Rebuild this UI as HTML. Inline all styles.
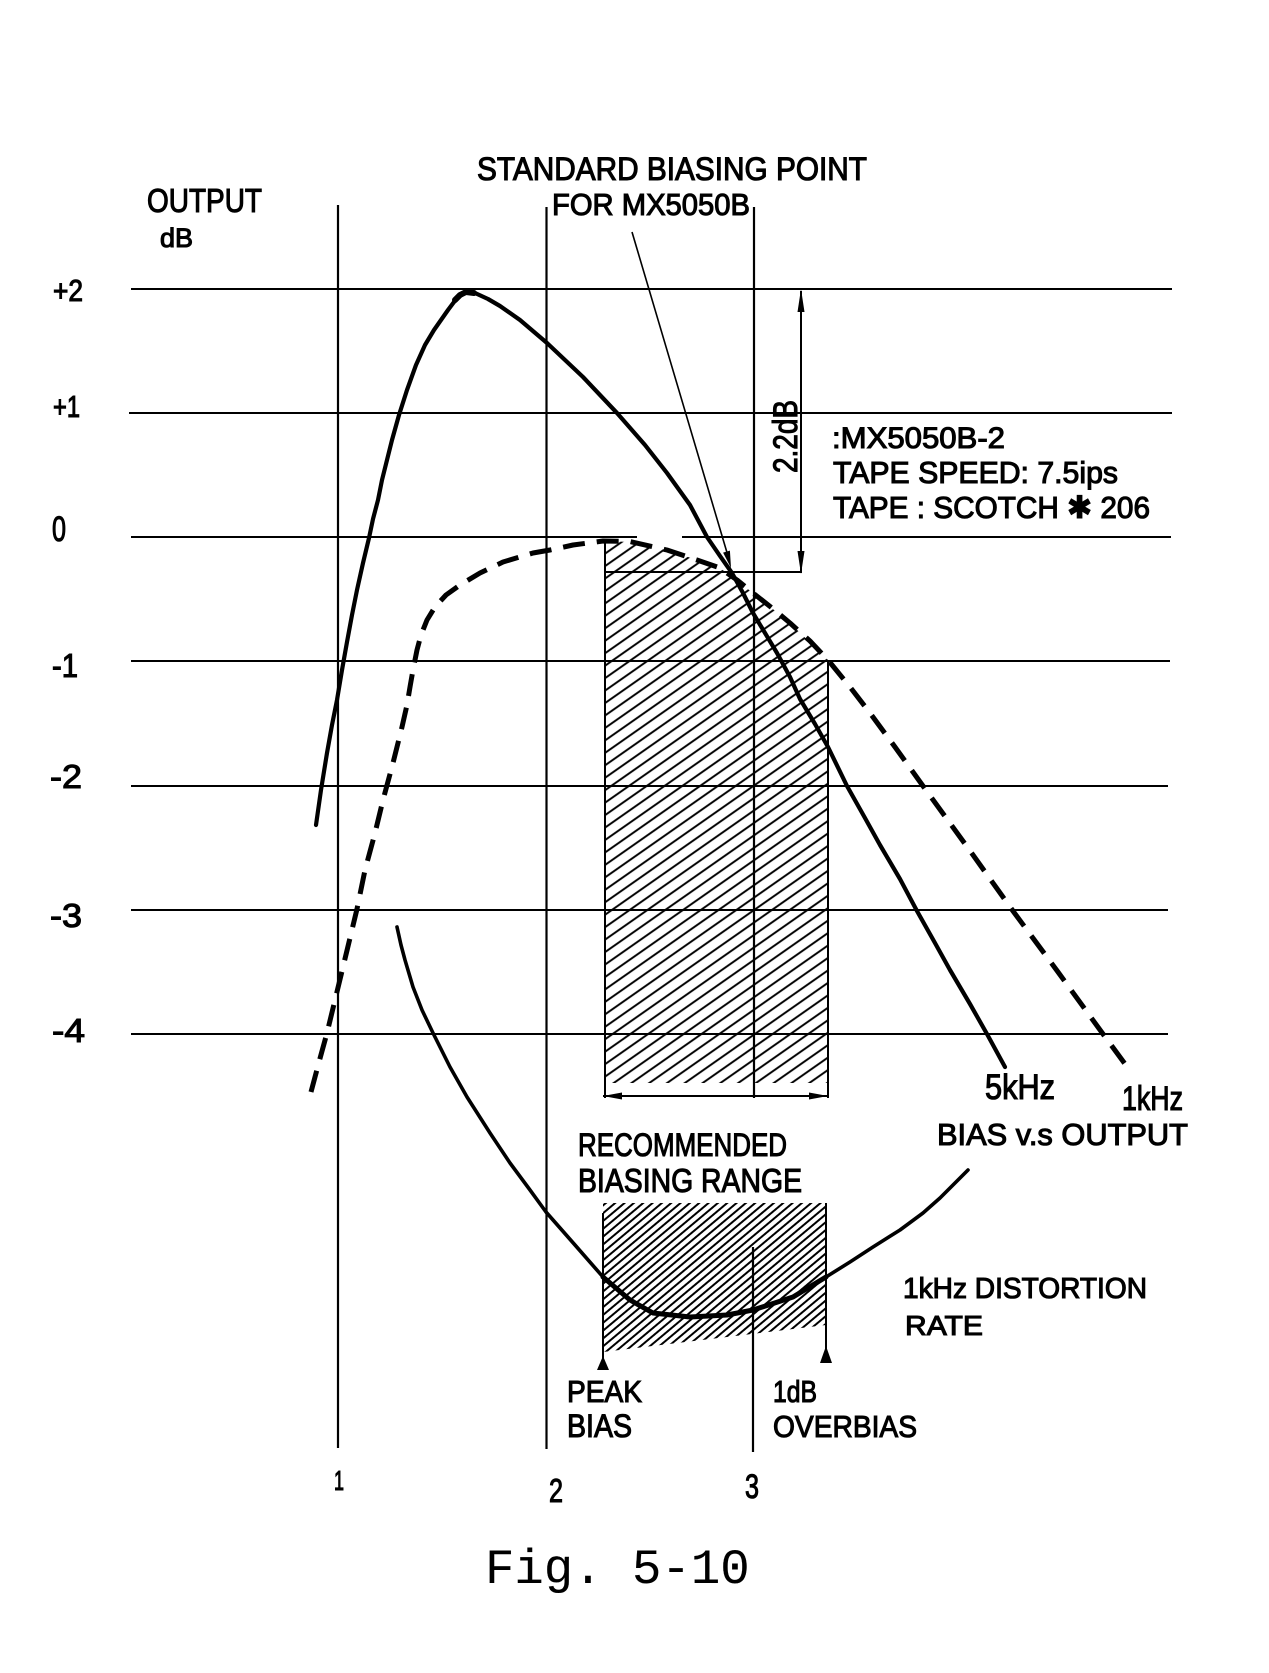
<!DOCTYPE html>
<html><head><meta charset="utf-8"><style>
html,body{margin:0;padding:0;background:#fff;}
svg{display:block;}
text{font-family:"Liberation Sans","DejaVu Sans",sans-serif;fill:#000;stroke:#000;stroke-width:1.1;}
</style></head><body>
<svg width="1269" height="1673" viewBox="0 0 1269 1673" xmlns="http://www.w3.org/2000/svg">
<defs>
<pattern id="h1" patternUnits="userSpaceOnUse" width="20" height="10.2" patternTransform="rotate(-35)">
<line x1="-2" y1="5" x2="22" y2="5" stroke="#000" stroke-width="2"/>
</pattern>
<pattern id="h2" patternUnits="userSpaceOnUse" width="20" height="6" patternTransform="rotate(-40)">
<line x1="-2" y1="3" x2="22" y2="3" stroke="#000" stroke-width="1.9"/>
</pattern>
</defs>
<rect width="1269" height="1673" fill="#fff"/>

<!-- hatched areas -->
<path d="M605,541 L630,542 L667,550 L697,560 L720,568 L753,593 L790,623 L828,660 L828,1083 L605,1083 Z" fill="url(#h1)"/>
<path d="M603,1203 L826,1203 L826,1325 L603,1352 Z" fill="url(#h2)"/>

<!-- grid -->
<g stroke="#000" stroke-width="2" fill="none">
<line x1="131" y1="289" x2="1172" y2="289"/>
<line x1="129" y1="413" x2="1172" y2="413"/>
<line x1="131" y1="537" x2="637" y2="537"/><line x1="682" y1="537" x2="1171" y2="537"/>
<line x1="131" y1="661" x2="1170" y2="661"/>
<line x1="131" y1="786" x2="1168" y2="786"/>
<line x1="131" y1="910" x2="1168" y2="910"/>
<line x1="131" y1="1034" x2="1168" y2="1034"/>
</g>
<g stroke="#000" stroke-width="2.2" fill="none">
<line x1="338" y1="205" x2="338" y2="1448"/>
<line x1="546.5" y1="207" x2="546.5" y2="1449"/>
<line x1="754" y1="207" x2="754" y2="1098"/>
<line x1="753" y1="1247" x2="753" y2="1452"/>
</g>

<!-- upper hatch borders, range arrow -->
<g stroke="#000" stroke-width="2" fill="none">
<line x1="605" y1="541" x2="605" y2="1098"/>
<line x1="828" y1="660" x2="828" y2="1098"/>
<line x1="603" y1="1096" x2="828" y2="1096"/>
<line x1="605" y1="572" x2="802" y2="572"/>
<line x1="801" y1="291" x2="801" y2="572"/>
<line x1="603" y1="1213" x2="603" y2="1362"/>
<line x1="826" y1="1203" x2="826" y2="1352"/>
</g>
<g fill="#000">
<polygon points="603,1096 622,1092.5 622,1099.5"/>
<polygon points="828,1096 809,1092.5 809,1099.5"/>
<polygon points="801,289 797.5,312 804.5,312"/>
<polygon points="801,574 797.5,551 804.5,551"/>
<polygon points="603,1356 597,1370 609,1370"/>
<polygon points="826,1346 820,1363 832,1363"/>
<polygon points="731,568 729.9,550.6 723.1,552.6"/>
</g>

<!-- pointer line -->
<line x1="632" y1="232" x2="728" y2="556" stroke="#000" stroke-width="1.6"/>

<!-- 5kHz curve -->
<polyline fill="none" stroke="#000" stroke-width="4.2" stroke-linejoin="round" stroke-linecap="round"
points="316,825 321,790 327,753 332,725 337,700 342,670 347,642 352,615 357,590 363,563 369,538 373,519 378,500 382,480 387,460 392,440 399,415 407,390 416,365 425,345 434,330 441,320 448,310 454,302 460,296 466,292 475,293 488,299 500,306 520,320 547,343 565,360 583,377 600,395 617,413 645,445 667,473 690,505 707,537 720,556 732,573 743,593 753,613 765,633 777,653 790,677 800,699 815,724 828,747 847,786 865,818 880,845 900,879 917,911 935,943 950,970 970,1004 987,1034 1005,1067"/>
<polyline fill="none" stroke="#000" stroke-width="6" stroke-linejoin="round" stroke-linecap="round"
points="455,300 460,295 466,292 474,293"/>

<!-- 1kHz dashed curve -->
<polyline fill="none" stroke="#000" stroke-width="5" stroke-dasharray="22 12" stroke-linejoin="round"
points="311,1092 319,1062 327,1033 335,1000 343,967 350,938 357,909 365,870 375,833 383,800 393,763 402,727 407,705 410,687 413,670 417,650 421,635 427,620 435,607 446,595 460,585 480,573 503,562 533,553 550,550 573,545 603,541 630,541.5 667,550 697,560 720,568 737,580 753,593 772,608 790,623 810,641 828,660 850,687 870,713 895,747 923,786 968,848 1013,911 1058,972 1103,1034 1128,1068"/>

<!-- distortion curve -->
<polyline fill="none" stroke="#000" stroke-width="3.6" stroke-linejoin="round" stroke-linecap="round"
points="397,927 401,945 405,960 413,987 422,1010 433,1033 450,1067 467,1097 490,1133 510,1163 530,1190 546,1212 575,1245 603,1277 630,1300 653,1313 690,1317 727,1315 753,1310 793,1297 826,1277 850,1262 873,1247 900,1230 923,1213 940,1198 953,1185 968,1170"/>
<polyline fill="none" stroke="#000" stroke-width="5" stroke-linejoin="round" stroke-linecap="round"
points="603,1277 630,1300 653,1313 690,1317 727,1315 753,1310 793,1297 826,1277"/>

<!-- texts -->
<text x="477" y="180" font-size="32" textLength="390" lengthAdjust="spacingAndGlyphs">STANDARD BIASING POINT</text>
<text x="552" y="215" font-size="31" textLength="198" lengthAdjust="spacingAndGlyphs">FOR MX5050B</text>
<text x="147" y="212" font-size="33" textLength="115" lengthAdjust="spacingAndGlyphs">OUTPUT</text>
<text x="160" y="247" font-size="27" textLength="33" lengthAdjust="spacingAndGlyphs">dB</text>
<text x="53" y="301" font-size="31" textLength="30" lengthAdjust="spacingAndGlyphs">+2</text>
<text x="53" y="417" font-size="31" textLength="27" lengthAdjust="spacingAndGlyphs">+1</text>
<text x="52" y="541" font-size="35" textLength="14" lengthAdjust="spacingAndGlyphs">0</text>
<text x="52" y="677" font-size="33" textLength="26" lengthAdjust="spacingAndGlyphs">-1</text>
<text x="50" y="788" font-size="33" textLength="32" lengthAdjust="spacingAndGlyphs">-2</text>
<text x="50" y="927" font-size="33" textLength="32" lengthAdjust="spacingAndGlyphs">-3</text>
<text x="52" y="1042" font-size="33" textLength="33" lengthAdjust="spacingAndGlyphs">-4</text>
<text transform="translate(797,473) rotate(-90)" x="0" y="0" font-size="34" textLength="73" lengthAdjust="spacingAndGlyphs">2.2dB</text>
<text x="832" y="448" font-size="30" textLength="173" lengthAdjust="spacingAndGlyphs">:MX5050B-2</text>
<text x="833" y="483" font-size="31" textLength="285" lengthAdjust="spacingAndGlyphs">TAPE SPEED: 7.5ips</text>
<text x="833" y="518" font-size="31" textLength="317" lengthAdjust="spacingAndGlyphs">TAPE : SCOTCH ✱ 206</text>
<text x="985" y="1099" font-size="35" textLength="70" lengthAdjust="spacingAndGlyphs">5kHz</text>
<text x="1122" y="1110" font-size="34" textLength="61" lengthAdjust="spacingAndGlyphs">1kHz</text>
<text x="937" y="1145" font-size="31" textLength="251" lengthAdjust="spacingAndGlyphs">BIAS v.s OUTPUT</text>
<text x="578" y="1156" font-size="32" textLength="209" lengthAdjust="spacingAndGlyphs">RECOMMENDED</text>
<text x="578" y="1192" font-size="33" textLength="224" lengthAdjust="spacingAndGlyphs">BIASING RANGE</text>
<text x="903" y="1298" font-size="29" textLength="244" lengthAdjust="spacingAndGlyphs">1kHz DISTORTION</text>
<text x="905" y="1335" font-size="28" textLength="78" lengthAdjust="spacingAndGlyphs">RATE</text>
<text x="567" y="1402" font-size="31" textLength="75" lengthAdjust="spacingAndGlyphs">PEAK</text>
<text x="567" y="1437" font-size="32" textLength="65" lengthAdjust="spacingAndGlyphs">BIAS</text>
<text x="773" y="1402" font-size="31" textLength="44" lengthAdjust="spacingAndGlyphs">1dB</text>
<text x="773" y="1437" font-size="31" textLength="144" lengthAdjust="spacingAndGlyphs">OVERBIAS</text>
<text x="334" y="1490" font-size="28" textLength="10" lengthAdjust="spacingAndGlyphs">1</text>
<text x="549" y="1502" font-size="33" textLength="14" lengthAdjust="spacingAndGlyphs">2</text>
<text x="745" y="1498" font-size="34" textLength="14" lengthAdjust="spacingAndGlyphs">3</text>
<text x="485" y="1583" font-size="49" style="font-family:'Liberation Mono',monospace;stroke-width:0.1">Fig. 5-10</text>
</svg>
</body></html>
